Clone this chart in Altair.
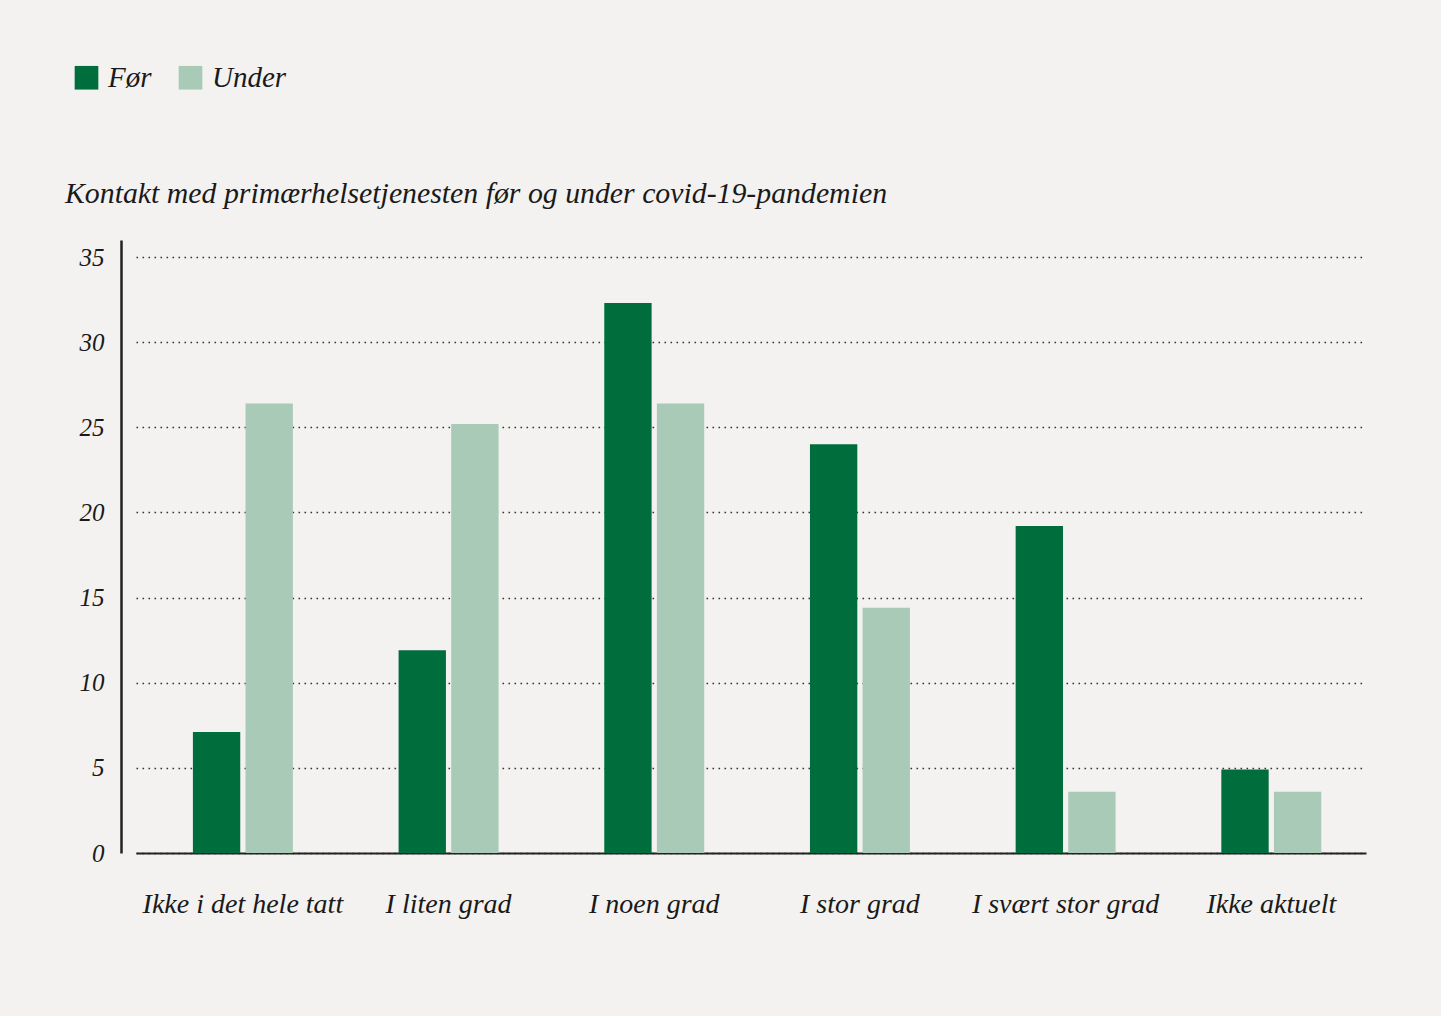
import altair as alt
import pandas as pd

# Survey categories and shares (%) before and during the pandemic
categories = ["Ikke i det hele tatt", "I liten grad", "I noen grad", "I stor grad",
              "I svært stor grad", "Ikke aktuelt"]
for_values = [7.1, 11.9, 32.3, 24.0, 19.2, 4.9]
under_values = [26.4, 25.2, 26.4, 14.4, 3.6, 3.6]
series = ["Før", "Under"]
series_colors = ["#006e3c", "#a8cab6"]
y_ticks = [0, 5, 10, 15, 20, 25, 30, 35]
chart_title = "Kontakt med primærhelsetjenesten før og under covid-19-pandemien"

rows = []
for cat, f, u in zip(categories, for_values, under_values):
    rows.append({"kategori": cat, "periode": "Før", "andel": f})
    rows.append({"kategori": cat, "periode": "Under", "andel": u})
df = pd.DataFrame(rows)

FONT = "Liberation Serif"
BG = "#f3f2f0"
INK = "#1a1a1a"

bars = alt.Chart(df).mark_bar().encode(
    x=alt.X("kategori:N", sort=categories, title=None,
            scale=alt.Scale(paddingInner=0.514, paddingOuter=0.247, align=0.56),
            axis=alt.Axis(labelAngle=0, labelFont=FONT, labelFontStyle="italic",
                          labelFontSize=28, labelColor=INK, labelPadding=37,
                          labelLimit=0, ticks=False, domainColor="#222222",
                          domainWidth=2)),
    xOffset=alt.XOffset("periode:N", sort=series,
                        scale=alt.Scale(paddingInner=0.1)),
    y=alt.Y("andel:Q", title=None,
            scale=alt.Scale(domain=[0, 36], nice=False),
            axis=alt.Axis(values=y_ticks, offset=15, labelFont=FONT,
                          labelFontStyle="italic", labelFontSize=25,
                          labelColor=INK, labelPadding=17, ticks=False,
                          domainColor="#222222", domainWidth=2.5,
                          grid=True, gridColor="#333333", gridDash=[1.6, 4.4],
                          gridWidth=1.7)),
    color=alt.Color("periode:N", sort=series,
                    scale=alt.Scale(domain=series, range=series_colors),
                    legend=alt.Legend(title=None, orient="none", direction="horizontal",
                                      legendX=-64, legendY=-177,
                                      symbolType="square", symbolSize=560,
                                      symbolStrokeWidth=0, symbolOpacity=1,
                                      labelFont=FONT, labelFontStyle="italic",
                                      labelFontSize=29, labelColor=INK,
                                      labelOffset=7, columnPadding=24)),
)

# Chart heading above the plot, left of the value axis
heading = alt.Chart().mark_text(
    font=FONT, fontStyle="italic", fontSize=29.8, color=INK,
    align="left", baseline="alphabetic",
).encode(x=alt.value(-71), y=alt.value(-37), text=alt.value(chart_title))

chart = alt.layer(bars, heading).properties(
    width=1230,
    height=613,
    background=BG,
    autosize=alt.AutoSizeParams(type="none"),
    padding={"left": 136, "top": 240, "right": 75, "bottom": 163},
).configure_view(stroke=None)

chart.save("out.html", embed_options={"renderer": "svg", "actions": False})
